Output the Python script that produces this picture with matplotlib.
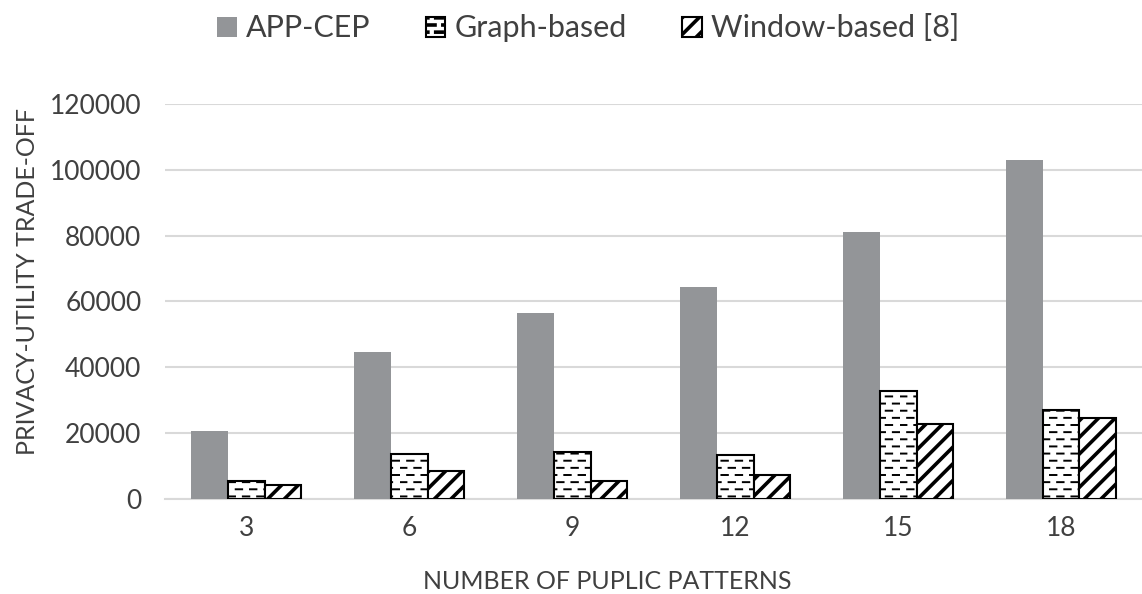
import numpy as np
import matplotlib
matplotlib.use("Agg")
import matplotlib.pyplot as plt
import matplotlib.hatch as mhatch
from matplotlib.path import Path

# Daten
patterns = ["3", "6", "9", "12", "15", "18"]
app_cep = [20600, 44700, 56500, 64400, 81200, 103000]
graph_based = [5500, 13700, 14300, 13400, 32800, 27000]
window_based = [4200, 8500, 5500, 7300, 22800, 24600]
series_names = ["APP-CEP", "Graph-based", "Window-based [8]"]


# versetzte Strichschraffur (ersetzt die vertikale Schraffur '|')
class DashHatch(mhatch.HatchPatternBase):
    def __init__(self, hatch, density):
        n = hatch.count('|')
        self.rows = 14 if n > 0 else 0
        self.dashes = 7
        self.num_vertices = self.rows * self.dashes * 2

    def set_vertices_and_codes(self, vertices, codes):
        k = 0
        period = 1.0 / self.dashes
        for r in range(self.rows):
            y = (r + 0.5) / self.rows
            off = 0.0 if r % 2 == 0 else period / 2
            for d in range(self.dashes):
                x0 = (d * period + off) % 1.0
                x1 = x0 + period * 0.45
                if x1 > 1.0:
                    x0, x1 = x0 - period / 2, x0
                vertices[k] = (x0, y)
                vertices[k + 1] = (x1, y)
                codes[k] = Path.MOVETO
                codes[k + 1] = Path.LINETO
                k += 2


mhatch._hatch_types[mhatch._hatch_types.index(mhatch.VerticalHatch)] = DashHatch

plt.rcParams['font.family'] = ['Lato', 'DejaVu Sans']
txt = '#404040'

fig = plt.figure(figsize=(11.42, 5.94), dpi=100)
ax = fig.add_axes([0.1445, 0.16, 0.856, 0.665])

x = np.arange(len(patterns))
w = 0.225
b1 = ax.bar(x - w, app_cep, w, color='#939598', label=series_names[0], zorder=3)
plt.rcParams['hatch.linewidth'] = 1.4
b2 = ax.bar(x, graph_based, w, facecolor='white', edgecolor='black', hatch='|',
            linewidth=1.5, label=series_names[1], zorder=3)
plt.rcParams['hatch.linewidth'] = 2.6
b3 = ax.bar(x + w, window_based, w, facecolor='white', edgecolor='black', hatch='//',
            linewidth=1.5, label=series_names[2], zorder=3)
for p in b2:
    if hasattr(p, 'set_hatch_linewidth'):
        p.set_hatch_linewidth(1.4)
for p in b3:
    if hasattr(p, 'set_hatch_linewidth'):
        p.set_hatch_linewidth(2.6)

ax.set_xlim(-0.5, len(patterns) - 0.5)
ax.set_ylim(0, 120000)
ax.set_yticks(np.arange(0, 120001, 20000))
ax.set_xticks(x)
ax.set_xticklabels(patterns)
ax.yaxis.grid(True, color='#d9d9d9', linewidth=1.5, zorder=0)
for s in ['top', 'right', 'left']:
    ax.spines[s].set_visible(False)
ax.spines['bottom'].set_color('#d9d9d9')
ax.spines['bottom'].set_linewidth(1.5)
ax.tick_params(axis='both', length=0, labelsize=19, colors=txt, pad=12)
ax.tick_params(axis='y', pad=17)

ax.set_xlabel("NUMBER OF PUPLIC PATTERNS", fontsize=18, color=txt, labelpad=21, x=0.452)
ax.set_ylabel("PRIVACY-UTILITY TRADE-OFF", fontsize=18, color=txt, labelpad=8, y=0.55)

fig.legend(handles=[b1, b2, b3], loc='upper center', bbox_to_anchor=(0.515, 1.022),
           ncol=3, frameon=False, fontsize=22, labelcolor=txt,
           handlelength=0.65, handleheight=0.65, handletextpad=0.3, columnspacing=1.8)

fig.savefig("out.png", dpi=100)
